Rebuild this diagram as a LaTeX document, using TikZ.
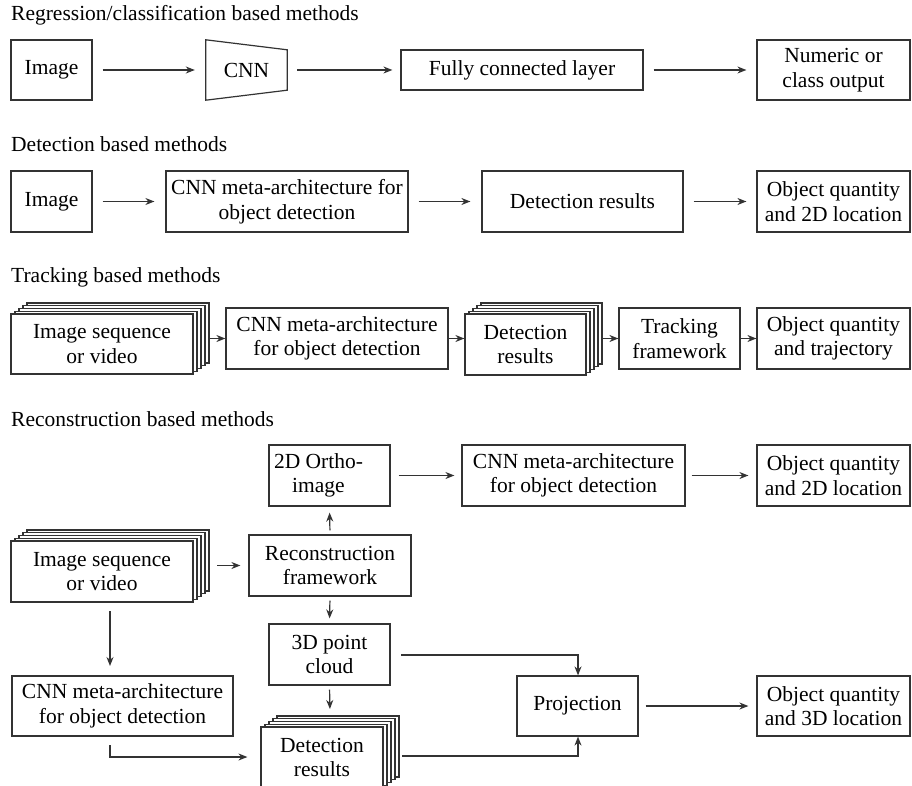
\documentclass[tikz,border=0pt]{standalone}
\usepackage{fontspec}
\setmainfont{Liberation Serif}
\usetikzlibrary{arrows.meta,shadows}
\definecolor{ln}{HTML}{333333}
\tikzset{
  x=1pt, y=-1pt,
  every node/.style={font=\fontsize{21.5}{24.5}\selectfont, text=black},
  box/.style={draw=ln, line width=1.2pt, inner sep=0pt, align=center, fill=white},
  title/.style={anchor=base west, inner sep=0pt},
  arr/.style={draw=ln, line width=1.2pt, -{Stealth[length=9pt,width=7pt]}},
  ln/.style={draw=ln, line width=1.2pt},
  stack/.style={box,
    copy shadow={shadow xshift=16pt, shadow yshift=11pt},
    copy shadow={shadow xshift=12pt, shadow yshift=8.25pt},
    copy shadow={shadow xshift=8pt, shadow yshift=5.5pt},
    copy shadow={shadow xshift=4pt, shadow yshift=2.75pt}},
}
\begin{document}
\begin{tikzpicture}
\clip (0,0) rectangle (912,786);
\fill[white] (0,0) rectangle (912,786);

% ---------- Row 1 ----------
\node[title] (t1) at (11,21) {Regression/classification based methods};
\node[box, minimum width=81, minimum height=60] (img1) at (51.5,70) {Image};
\node[inner sep=0pt, minimum width=81, minimum height=60] (cnn1) at (246.5,70) {CNN};
\draw[ln, line join=miter] (cnn1.north west) -- ([yshift=-10pt]cnn1.north east) -- ([yshift=10pt]cnn1.south east) -- (cnn1.south west) -- cycle;
\node[box, minimum width=242, minimum height=40] (fc1) at (522,70) {Fully connected layer};
\node[box, minimum width=153, minimum height=60] (num1) at (833.5,70) {Numeric or\\class output};
\draw[arr, shorten <=10pt, shorten >=11pt] (img1) -- (cnn1);
\draw[arr, shorten <=10pt, shorten >=8pt] (cnn1) -- (fc1);
\draw[arr, shorten <=10pt, shorten >=10pt] (fc1) -- (num1);

% ---------- Row 2 ----------
\node[title] (t2) at (11,152) {Detection based methods};
\node[box, minimum width=81, minimum height=61] (img2) at (51.5,201.5) {Image};
\node[box, minimum width=242, minimum height=61] (cnn2) at (287,201.5) {CNN meta-architecture for\\object detection};
\node[box, minimum width=201, minimum height=61] (det2) at (582.5,201.5) {Detection results};
\node[box, minimum width=153, minimum height=61] (obj2) at (833.5,201.5) {Object quantity\\and 2D location};
\draw[arr, shorten <=10pt, shorten >=11pt] (img2) -- (cnn2);
\draw[arr, shorten <=10pt, shorten >=11pt] (cnn2) -- (det2);
\draw[arr, shorten <=10pt, shorten >=10pt] (det2) -- (obj2);

% ---------- Row 3 ----------
\node[title] (t3) at (11,282) {Tracking based methods};
\node[stack, minimum width=182, minimum height=60] (img3) at (102,344) {Image sequence\\or video};
\node[box, minimum width=222, minimum height=61] (cnn3) at (337,338.5) {CNN meta-architecture\\for object detection};
\node[stack, minimum width=121, minimum height=61] (det3) at (525.5,344.5) {Detection\\results};
\node[box, minimum width=121, minimum height=61] (trk3) at (679.5,338.5) {Tracking\\framework};
\node[box, minimum width=153, minimum height=61] (obj3) at (833.5,338.5) {Object quantity\\and trajectory};
\draw[arr] (209,338.5) -- (cnn3.west);
\draw[arr] (cnn3.east) -- (det3.west |- cnn3.east);
\draw[arr] (602,338.5) -- (trk3.west);
\draw[arr] (trk3) -- (obj3);

% ---------- Row 4 ----------
\node[title] (t4) at (11,426) {Reconstruction based methods};
\node[box, minimum width=121, minimum height=61,
  label={[xshift=-11pt, align=center, inner sep=0pt]center:2D Ortho-\\image}] (orth) at (329.5,475.5) {};
\node[box, minimum width=223, minimum height=61] (cnn4) at (573.5,475.5) {CNN meta-architecture\\for object detection};
\node[box, minimum width=153, minimum height=61] (obj4) at (833.5,475.5) {Object quantity\\and 2D location};
\node[stack, minimum width=182, minimum height=61] (img4) at (102,571.5) {Image sequence\\or video};
\node[box, minimum width=162, minimum height=61] (rec4) at (330,565.5) {Reconstruction\\framework};
\node[box, minimum width=121, minimum height=61] (pc4) at (329.5,654.5) {3D point\\cloud};
\node[box, minimum width=221, minimum height=60] (cnn5) at (122.5,706) {CNN meta-architecture\\for object detection};
\node[stack, minimum width=122, minimum height=61] (det4) at (322,757.5) {Detection\\results};
\node[box, minimum width=121, minimum height=60] (proj) at (577.5,706) {Projection};
\node[box, minimum width=153, minimum height=60] (obj5) at (833.5,706) {Object quantity\\and 3D location};
\coordinate (pj) at (578,706);

\draw[arr, shorten <=8pt, shorten >=7pt] (orth) -- (cnn4);
\draw[arr, shorten <=6pt, shorten >=8pt] (cnn4) -- (obj4);
\draw[arr, shorten >=8pt] (217,565.5) -- (rec4.west);
\draw[arr, shorten <=4pt, shorten >=6pt] (rec4.north) -- (orth.south);
\draw[arr, shorten <=4pt, shorten >=5pt] (rec4.south) -- (pc4.north);
\draw[arr, shorten <=4pt, shorten >=5pt] (pc4.south) -- (330,714);
\draw[arr, shorten <=9pt, shorten >=10pt] (110,602) -- (110,676);
\draw[arr, shorten >=13pt] (110,745) |- (det4.west |- 0,757);
\draw[arr] (401,655) -| (proj.north -| pj);
\draw[arr] (402,756) -| (proj.south -| pj);
\draw[arr, shorten <=7pt, shorten >=8pt] (proj) -- (obj5);
\end{tikzpicture}
\end{document}
